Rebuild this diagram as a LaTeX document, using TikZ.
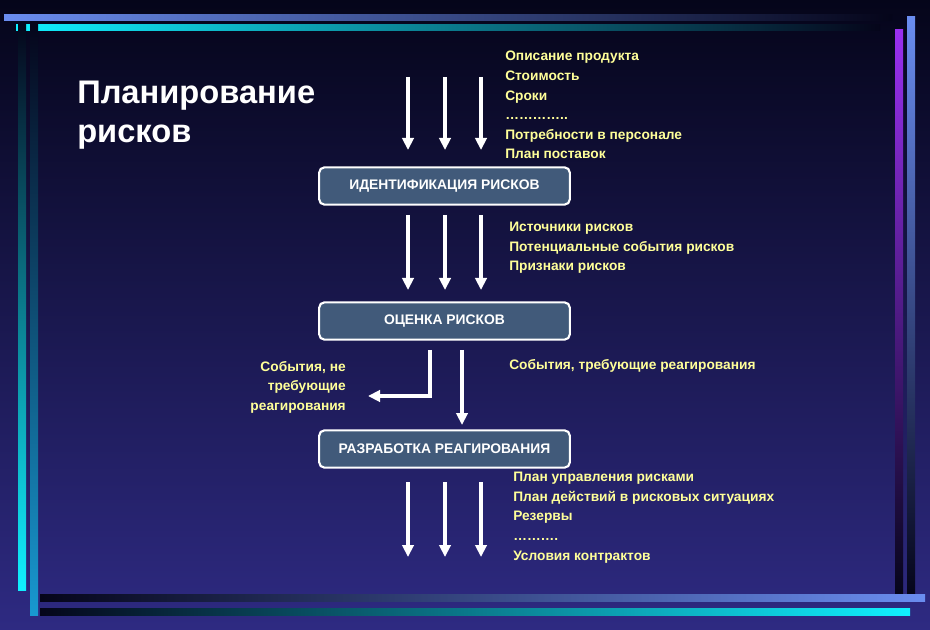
\documentclass[tikz,border=0pt]{standalone}
\usepackage{fontspec}
\setmainfont{Liberation Sans}
\usetikzlibrary{arrows.meta}
\definecolor{bgtop}{HTML}{05051A}
\definecolor{bgbot}{HTML}{2E2A82}
\definecolor{lblue}{HTML}{6A8DF0}
\definecolor{cyanb}{HTML}{10F0FF}
\definecolor{blueb}{HTML}{1898D0}
\definecolor{purp}{HTML}{9A30F0}
\definecolor{boxf}{HTML}{415A7A}
\definecolor{yel}{HTML}{FFFF99}
\begin{document}
\begin{tikzpicture}[x=0.75pt,y=-0.75pt,
  stage/.style={draw=white,line width=1.6pt,fill=boxf,rounded corners=4pt,minimum width=188pt,minimum height=28pt,text=white,font=\bfseries\fontsize{10.4}{12}\selectfont},
  lab/.style={text=yel,font=\bfseries\fontsize{10.3}{14.7}\selectfont,align=left,anchor=north west,inner sep=0},
  arr/.style={draw=white,line width=2.4pt,-{Triangle[width=8.5pt,length=9pt]}}]
\useasboundingbox (0,0) rectangle (930,630);
\shade[top color=bgtop,bottom color=bgbot] (0,0) rectangle (930,630);
% decorative bars
\shade[left color=lblue,right color=bgtop] (4,15) rectangle (892,21);
\shade[left color=cyanb,right color=bgtop] (16,25) rectangle (880,31);
\shade[top color=bgtop,bottom color=cyanb] (18,22) rectangle (26,590);
\shade[top color=bgtop,bottom color=blueb] (30,22) rectangle (38,615);
\shade[top color=purp,bottom color=bgtop] (895,30) rectangle (903,595);
\shade[top color=lblue,bottom color=bgtop] (907,17) rectangle (915,595);
\shade[left color=bgtop,right color=lblue] (40,594) rectangle (925,601);
\shade[left color=bgtop,right color=cyanb] (40,608) rectangle (910,615);
% title
\node[text=white,font=\bfseries\fontsize{24.5}{29}\selectfont,align=left,anchor=north west,inner sep=0] (title) at (77,81) {Планирование\\рисков};
% stages
\node[stage] (id) at (444.5,186) {ИДЕНТИФИКАЦИЯ РИСКОВ};
\node[stage] (oc) at (444.5,321) {ОЦЕНКА РИСКОВ};
\node[stage] (rz) at (444.5,449) {РАЗРАБОТКА РЕАГИРОВАНИЯ};
\foreach \i/\x in {1/408,2/445,3/481}{
  \coordinate (t\i) at (\x,77);
  \coordinate (b\i) at (\x,482);
  \coordinate (e\i) at (\x,557);
  \draw[arr] (t\i) -- (\x,150);
  \draw[arr] (\x,215) -- (\x,290);
  \draw[arr] (b\i) -- (e\i);
}
\coordinate (l1) at (430,350);
\coordinate (l2) at (368,396);
\draw[arr] (l1) |- (l2);
\draw[arr] (462,350) -- (462,425);
% labels
\node[lab] (in1) at (505,51) {Описание продукта\\Стоимость\\Сроки\\…………..\\Потребности в персонале\\План поставок};
\node[lab] (in2) at (509,222) {Источники рисков\\Потенциальные события рисков\\Признаки рисков};
\node[lab] (in3) at (509,359) {События, требующие реагирования};
\node[text=yel,font=\bfseries\fontsize{10.3}{14.7}\selectfont,align=right,anchor=north east,inner sep=0] (in4) at (346,361) {События, не\\требующие\\реагирования};
\node[lab] (in5) at (513,472) {План управления рисками\\План действий в рисковых ситуациях\\Резервы\\……….\\Условия контрактов};
\end{tikzpicture}
\end{document}
